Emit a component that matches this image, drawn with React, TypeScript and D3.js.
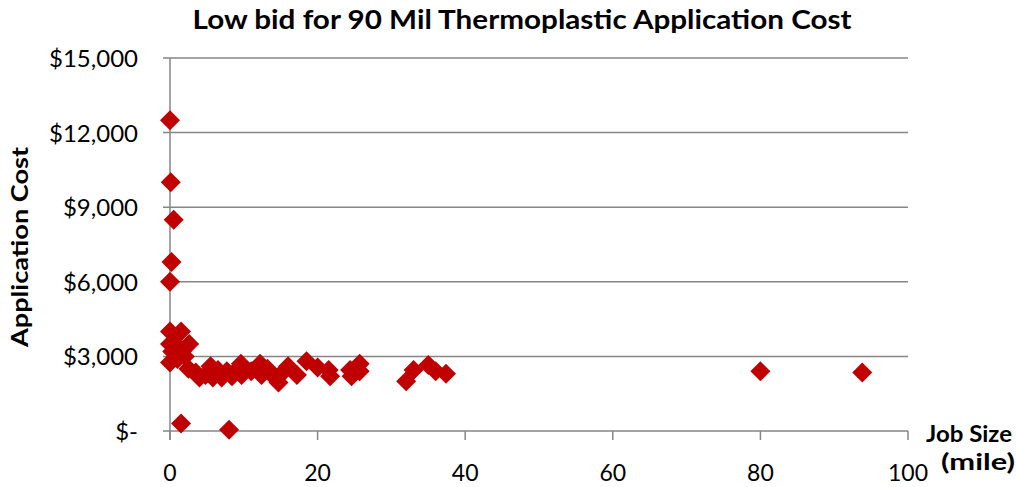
import React from "react";
import * as d3 from "d3";

const jobSize: number[] = [
  0, 0.1, 0.5, 0.2, 0,
  0, 1.5, 0, 0.8, 2.6, 0.3, 1.6, 0, 1, 2,
  1.5, 8,
  2.5, 3.5, 4, 4.8, 5.5, 5.8, 6.5, 7, 7.7, 8.4, 9.2, 9.6, 9.7, 11, 12.2, 12.4,
  13.2, 14, 14.7, 15.6, 16, 17.2, 18.5, 20, 21.5, 21.7, 24.4, 24.6, 25.7, 25.7,
  32, 33, 35, 36, 37.4, 80, 93.8,
];
const cost: number[] = [
  12500, 10000, 8500, 6800, 6000,
  4000, 4000, 3500, 3500, 3500, 3200, 3200, 2750, 2900, 3000,
  300, 50,
  2500, 2350, 2150, 2250, 2600, 2150, 2450, 2150, 2400, 2200, 2500, 2700, 2250, 2400, 2700, 2250,
  2500, 2200, 1950, 2450, 2600, 2250, 2800, 2550, 2450, 2200, 2450, 2200, 2700, 2400,
  2000, 2450, 2650, 2400, 2300, 2400, 2350,
];
const xTicks: number[] = [0, 20, 40, 60, 80, 100];
const yTicks: number[] = [0, 3000, 6000, 9000, 12000, 15000];

const title = "Low bid for 90 Mil Thermoplastic Application Cost";
const FONT = "Lato, 'Open Sans', sans-serif";
const GRID = "#868686";
const MARK = "#C00000";

export default function App() {
  const W = 1016, H = 487;
  const x = d3.scaleLinear().domain([0, 100]).range([170, 908]);
  const y = d3.scaleLinear().domain([0, 15000]).range([431, 58]);
  const fmt = (v: number) => (v === 0 ? "$-" : "$" + d3.format(",")(v));
  const r = 10;
  const diamond = (cx: number, cy: number) =>
    `M${cx},${cy - r}L${cx + r},${cy}L${cx},${cy + r}L${cx - r},${cy}Z`;

  return (
    <svg width={W} height={H} style={{ position: "absolute", left: 0, top: 0, background: "#fff" }}>
      <text x={522} y={29} textAnchor="middle" fontFamily={FONT} fontWeight="bold" fontSize={26}
        textLength={659} lengthAdjust="spacingAndGlyphs" fill="#000">
        {title}
      </text>
      {yTicks.map((t) => (
        <g key={"y" + t}>
          <line x1={x(0) - 7} x2={x(100)} y1={y(t)} y2={y(t)} stroke={GRID} strokeWidth={1.5} />
          <text x={138} y={y(t) + 9} textAnchor="end" fontFamily={FONT} fontSize={24} fill="#000">
            {fmt(t)}
          </text>
        </g>
      ))}
      <line x1={x(0)} x2={x(0)} y1={y(15000)} y2={y(0) + 9} stroke={GRID} strokeWidth={1.5} />
      {xTicks.map((t) => (
        <g key={"x" + t}>
          <line x1={x(t)} x2={x(t)} y1={y(0)} y2={y(0) + 9} stroke={GRID} strokeWidth={1.5} />
          <text x={x(t)} y={481} textAnchor="middle" fontFamily={FONT} fontSize={23} fill="#000">
            {t}
          </text>
        </g>
      ))}
      {jobSize.map((v, i) => (
        <path key={"p" + i} d={diamond(x(v), y(cost[i]))} fill={MARK} />
      ))}
      <text
        transform={`translate(28,247) rotate(-90)`}
        textAnchor="middle"
        fontFamily={FONT}
        fontWeight="bold"
        fontSize={22}
        textLength={200}
        lengthAdjust="spacingAndGlyphs"
        fill="#000"
      >
        Application Cost
      </text>
      <text x={969} y={442} textAnchor="middle" fontFamily={FONT} fontWeight="bold" fontSize={23}
        textLength={86} lengthAdjust="spacingAndGlyphs" fill="#000">
        Job Size
      </text>
      <text x={978} y={470} textAnchor="middle" fontFamily={FONT} fontWeight="bold" fontSize={23}
        textLength={74} lengthAdjust="spacingAndGlyphs" fill="#000">
        (mile)
      </text>
    </svg>
  );
}
